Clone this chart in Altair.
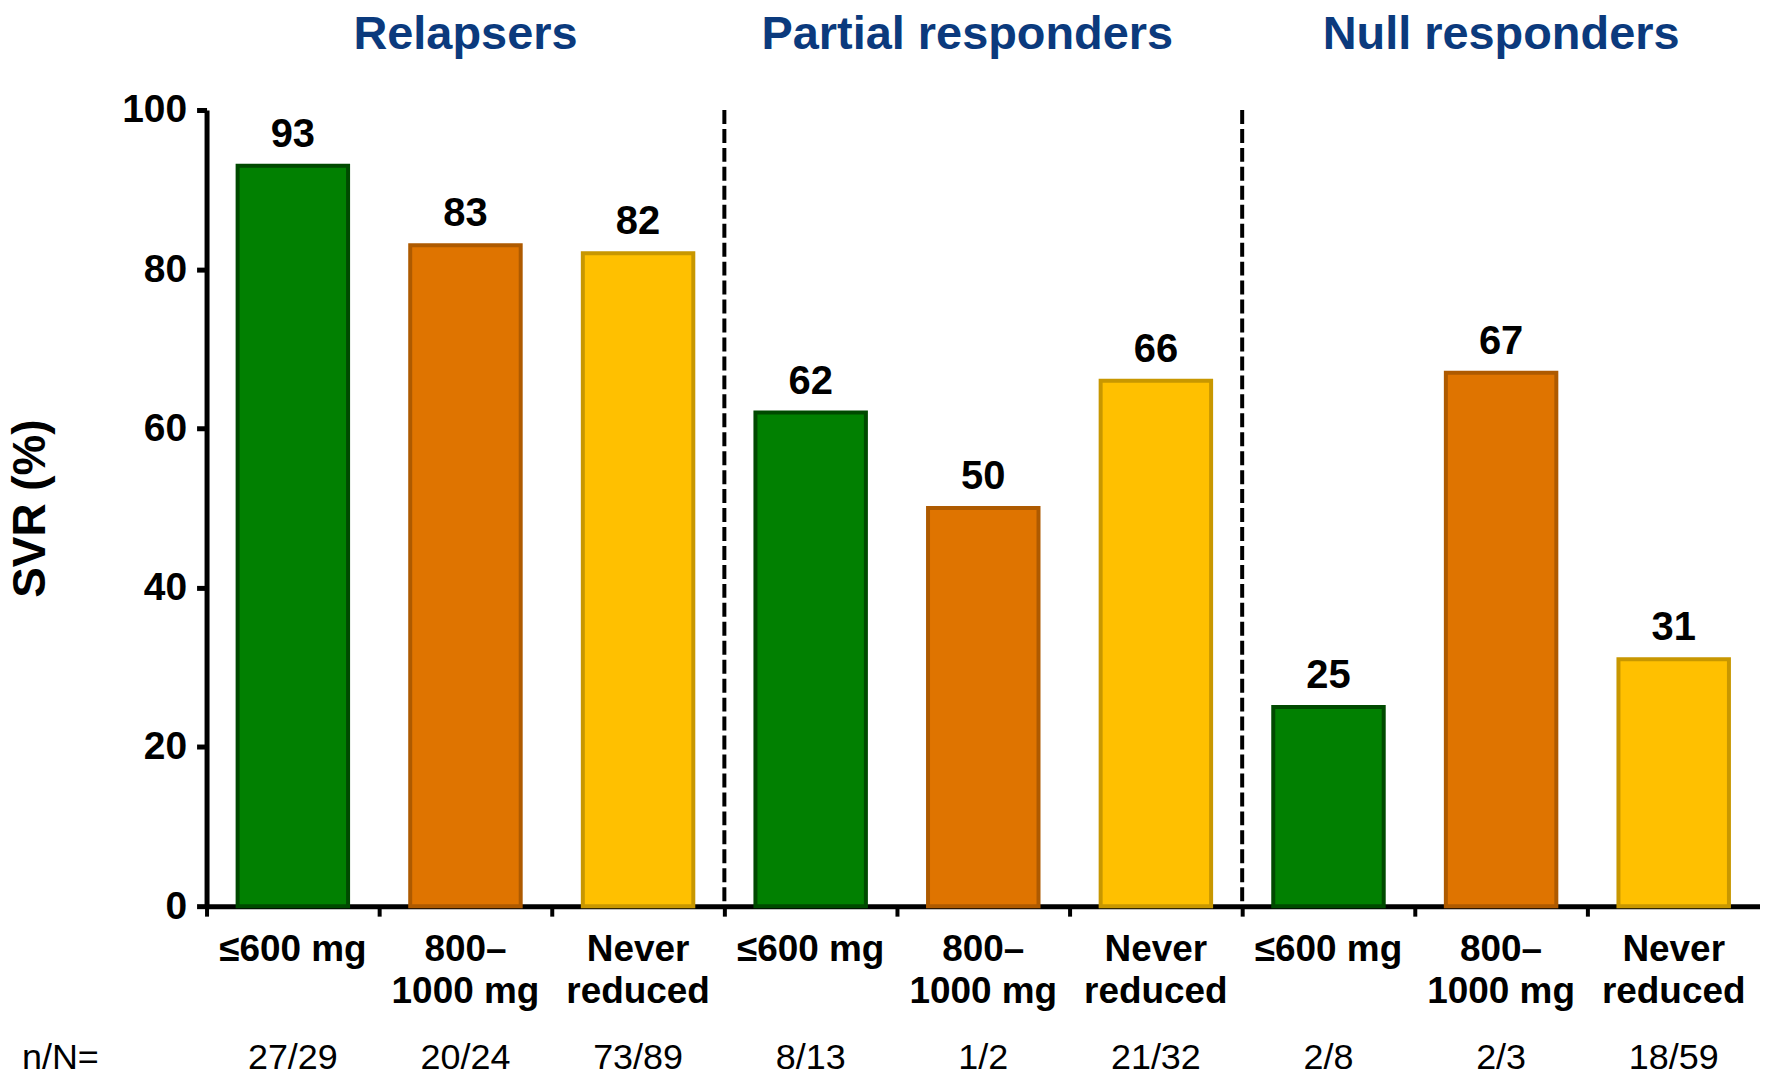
import altair as alt
import pandas as pd

groups = ["Relapsers", "Partial responders", "Null responders"]
doses = ["≤600 mg", "800–~1000 mg", "Never~reduced"]
svr = [93, 83, 82, 62, 50, 66, 25, 67, 31]
n_of_N = ["27/29", "20/24", "73/89", "8/13", "1/2", "21/32", "2/8", "2/3", "18/59"]
fill_colors = ["#018001", "#DF7400", "#FFC000"]
stroke_colors = ["#004A00", "#AE5A00", "#C89700"]

W, H = 1557, 798

rows = []
keys = []
for gi, g in enumerate(groups):
    for di, d in enumerate(doses):
        k = f"{g}^{d}"
        keys.append(k)
        i = gi * 3 + di
        rows.append({"key": k, "group": g, "dose": d, "svr": svr[i], "nN": n_of_N[i]})
df = pd.DataFrame(rows)

sep_df = pd.DataFrame({"key": [keys[3], keys[6]]})
title_df = pd.DataFrame({"key": [keys[1], keys[4], keys[7]], "group": groups})
nlabel_df = pd.DataFrame({"t": ["n/N="]})

FONT = "Liberation Sans"

xenc = alt.X(
    "key:N",
    sort=keys,
    scale=alt.Scale(paddingInner=0, paddingOuter=0),
    axis=alt.Axis(
        title=None,
        labelExpr="split(split(datum.value, '^')[1], '~')",
        labelAngle=0,
        labelFontSize=37,
        labelFontWeight="bold",
        labelColor="black",
        labelLineHeight=43,
        labelPadding=15,
        labelOverlap=False,
        labelBound=False,
        bandPosition=0,
        tickSize=10,
        tickWidth=4,
        tickColor="black",
        domainWidth=5,
        domainColor="black",
    ),
)

yenc = alt.Y(
    "svr:Q",
    scale=alt.Scale(domain=[0, 100], nice=False),
    axis=alt.Axis(
        values=[0, 20, 40, 60, 80, 100],
        grid=False,
        tickSize=10,
        tickWidth=5,
        tickColor="black",
        domainWidth=5,
        domainColor="black",
        labelFontSize=39,
        labelFontWeight="bold",
        labelColor="black",
        labelPadding=10,
        title="SVR (%)",
        titleFontSize=46,
        titleFontWeight="bold",
        titleColor="black",
        titleX=-176,
        titleY=H / 2,
        titleBaseline="middle",
        titleAngle=270,
    ),
)

bars = alt.Chart(df).mark_bar(width={"band": 0.64}, strokeWidth=4).encode(
    x=xenc,
    y=yenc,
    fill=alt.Fill("dose:N", scale=alt.Scale(domain=doses, range=fill_colors), legend=None),
    stroke=alt.Stroke("dose:N", scale=alt.Scale(domain=doses, range=stroke_colors), legend=None),
)

values = alt.Chart(df).mark_text(
    dy=-19, baseline="alphabetic", fontSize=40, fontWeight="bold", color="black", font=FONT
).encode(x=alt.X("key:N", sort=keys), y=alt.Y("svr:Q"), text=alt.Text("svr:Q"))

seps = alt.Chart(sep_df).mark_rule(strokeDash=[14, 5], strokeWidth=4, color="black").encode(
    x=alt.X("key:N", sort=keys, bandPosition=0),
    y=alt.datum(100),
    y2=alt.datum(0),
)

title_base = alt.Chart(title_df).encode(x=alt.X("key:N", sort=keys), y=alt.value(-75), text="group:N")
title_style = dict(fontSize=47, fontWeight="bold", color="#0B3A7D", baseline="middle", font=FONT)
titles_a = title_base.mark_text(**title_style).transform_filter(
    alt.datum.group != groups[1]
)
titles_b = title_base.mark_text(dx=-16, **title_style).transform_filter(
    alt.datum.group == groups[1]
)

nn = alt.Chart(df).mark_text(fontSize=36, baseline="alphabetic", color="black", font=FONT).encode(
    x=alt.X("key:N", sort=keys), y=alt.value(961), text="nN:N"
)

nlabel = alt.Chart(nlabel_df).mark_text(
    fontSize=36, baseline="alphabetic", align="left", color="black", font=FONT
).encode(x=alt.value(-185), y=alt.value(961), text="t:N")

chart = (
    alt.layer(bars, seps, values, titles_a, titles_b, nn, nlabel)
    .properties(
        width=W,
        height=H,
        autosize=alt.AutoSizeParams(type="none"),
        padding={"left": 199, "top": 101, "right": 0, "bottom": 166},
    )
    .configure(font=FONT)
    .configure_view(stroke=None)
)

chart.save("out.html", embed_options={"renderer": "svg", "actions": False})
